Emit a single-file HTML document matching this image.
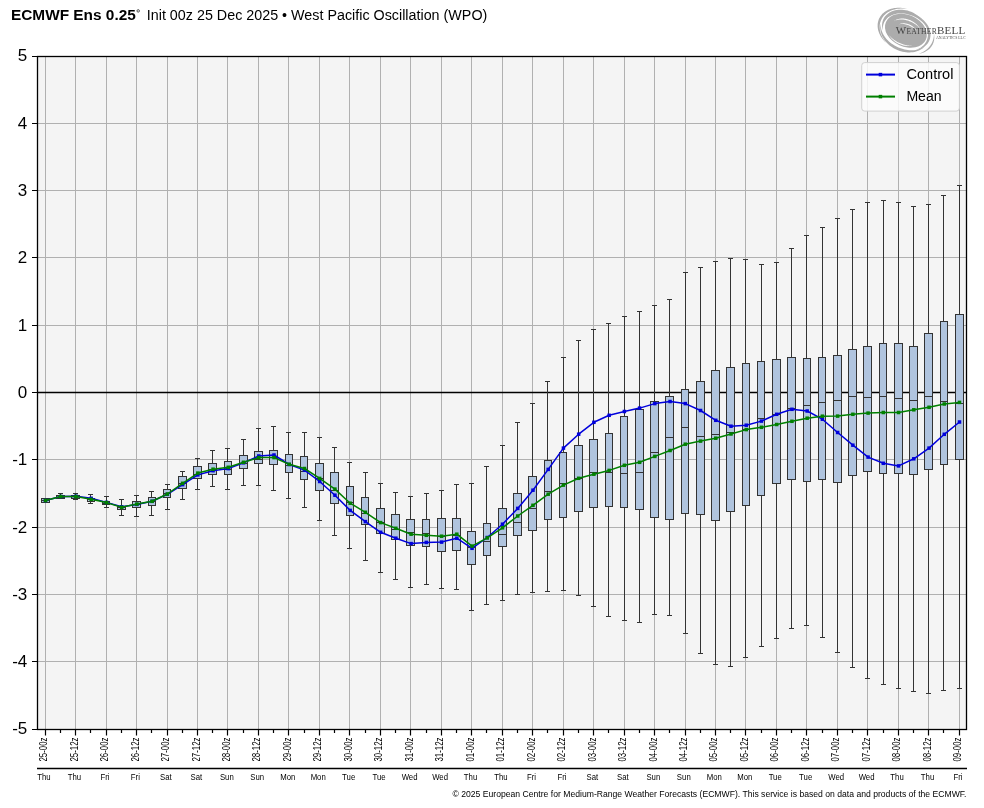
<!DOCTYPE html>
<html><head><meta charset="utf-8"><style>
html,body{margin:0;padding:0;background:#fff;}
body{width:984px;height:808px;overflow:hidden;}
svg{display:block;will-change:transform;font-family:"Liberation Sans",sans-serif;}
</style></head><body>
<svg width="984" height="808" viewBox="0 0 984 808">
<rect x="37.5" y="56.5" width="929" height="673" fill="#f4f4f4"/>
<path d="M45.5,56.5V729.5M75.5,56.5V729.5M106.5,56.5V729.5M136.5,56.5V729.5M167.5,56.5V729.5M197.5,56.5V729.5M227.5,56.5V729.5M258.5,56.5V729.5M288.5,56.5V729.5M319.5,56.5V729.5M349.5,56.5V729.5M380.5,56.5V729.5M410.5,56.5V729.5M441.5,56.5V729.5M471.5,56.5V729.5M502.5,56.5V729.5M532.5,56.5V729.5M563.5,56.5V729.5M593.5,56.5V729.5M624.5,56.5V729.5M654.5,56.5V729.5M685.5,56.5V729.5M715.5,56.5V729.5M745.5,56.5V729.5M776.5,56.5V729.5M806.5,56.5V729.5M837.5,56.5V729.5M867.5,56.5V729.5M898.5,56.5V729.5M928.5,56.5V729.5M959.5,56.5V729.5M37.5,661.5H966.5M37.5,594.5H966.5M37.5,527.5H966.5M37.5,459.5H966.5M37.5,325.5H966.5M37.5,257.5H966.5M37.5,190.5H966.5M37.5,123.5H966.5" stroke="#b0b0b0" stroke-width="1" fill="none"/>
<path d="M37.5,392.5H966.5" stroke="#000" stroke-width="1.5" fill="none"/>
<path d="M45.5,499.5V498.5M45.5,502.5V501.5M43,499.5H48M43,501.5H48M60.5,493.5V495.5M60.5,498.5V498.5M58,493.5H63M58,498.5H63M75.5,493.5V495.5M75.5,498.5V499.5M73,493.5H78M73,499.5H78M90.5,494.5V498.5M90.5,501.5V503.5M88,494.5H93M88,503.5H93M106.5,496.5V501.5M106.5,504.5V507.5M104,496.5H109M104,507.5H109M121.5,499.5V506.5M121.5,509.5V515.5M119,499.5H124M119,515.5H124M136.5,495.5V501.5M136.5,507.5V516.5M134,495.5H139M134,516.5H139M151.5,491.5V497.5M151.5,505.5V515.5M149,491.5H154M149,515.5H154M167.5,484.5V489.5M167.5,497.5V509.5M165,484.5H170M165,509.5H170M182.5,471.5V476.5M182.5,488.5V499.5M180,471.5H185M180,499.5H185M197.5,458.5V466.5M197.5,478.5V489.5M195,458.5H200M195,489.5H200M212.5,450.5V463.5M212.5,474.5V486.5M210,450.5H215M210,486.5H215M227.5,448.5V461.5M227.5,474.5V489.5M225,448.5H230M225,489.5H230M243.5,439.5V455.5M243.5,468.5V485.5M241,439.5H246M241,485.5H246M258.5,428.5V451.5M258.5,463.5V485.5M256,428.5H261M256,485.5H261M273.5,426.5V450.5M273.5,464.5V490.5M271,426.5H276M271,490.5H276M288.5,432.5V454.5M288.5,472.5V498.5M286,432.5H291M286,498.5H291M304.5,432.5V456.5M304.5,479.5V507.5M302,432.5H307M302,507.5H307M319.5,437.5V463.5M319.5,490.5V520.5M317,437.5H322M317,520.5H322M334.5,447.5V472.5M334.5,503.5V535.5M332,447.5H337M332,535.5H337M349.5,462.5V486.5M349.5,515.5V548.5M347,462.5H352M347,548.5H352M365.5,472.5V497.5M365.5,524.5V560.5M363,472.5H368M363,560.5H368M380.5,483.5V508.5M380.5,533.5V572.5M378,483.5H383M378,572.5H383M395.5,492.5V514.5M395.5,539.5V579.5M393,492.5H398M393,579.5H398M410.5,496.5V519.5M410.5,545.5V587.5M408,496.5H413M408,587.5H413M426.5,493.5V519.5M426.5,546.5V584.5M424,493.5H429M424,584.5H429M441.5,490.5V518.5M441.5,551.5V588.5M439,490.5H444M439,588.5H444M456.5,484.5V518.5M456.5,550.5V589.5M454,484.5H459M454,589.5H459M471.5,483.5V531.5M471.5,564.5V610.5M469,483.5H474M469,610.5H474M486.5,466.5V523.5M486.5,555.5V604.5M484,466.5H489M484,604.5H489M502.5,445.5V508.5M502.5,546.5V600.5M500,445.5H505M500,600.5H505M517.5,422.5V493.5M517.5,535.5V594.5M515,422.5H520M515,594.5H520M532.5,403.5V476.5M532.5,530.5V592.5M530,403.5H535M530,592.5H535M547.5,381.5V460.5M547.5,519.5V591.5M545,381.5H550M545,591.5H550M563.5,357.5V452.5M563.5,517.5V590.5M561,357.5H566M561,590.5H566M578.5,340.5V445.5M578.5,511.5V595.5M576,340.5H581M576,595.5H581M593.5,329.5V439.5M593.5,507.5V606.5M591,329.5H596M591,606.5H596M608.5,323.5V433.5M608.5,506.5V616.5M606,323.5H611M606,616.5H611M624.5,316.5V416.5M624.5,507.5V620.5M622,316.5H627M622,620.5H627M639.5,311.5V409.5M639.5,509.5V622.5M637,311.5H642M637,622.5H642M654.5,305.5V401.5M654.5,517.5V614.5M652,305.5H657M652,614.5H657M669.5,299.5V396.5M669.5,519.5V615.5M667,299.5H672M667,615.5H672M685.5,272.5V389.5M685.5,513.5V633.5M683,272.5H688M683,633.5H688M700.5,267.5V381.5M700.5,514.5V653.5M698,267.5H703M698,653.5H703M715.5,261.5V370.5M715.5,520.5V664.5M713,261.5H718M713,664.5H718M730.5,258.5V367.5M730.5,511.5V666.5M728,258.5H733M728,666.5H733M745.5,259.5V363.5M745.5,505.5V657.5M743,259.5H748M743,657.5H748M761.5,264.5V361.5M761.5,495.5V646.5M759,264.5H764M759,646.5H764M776.5,262.5V359.5M776.5,483.5V638.5M774,262.5H779M774,638.5H779M791.5,248.5V357.5M791.5,479.5V628.5M789,248.5H794M789,628.5H794M806.5,235.5V358.5M806.5,481.5V625.5M804,235.5H809M804,625.5H809M822.5,227.5V357.5M822.5,479.5V637.5M820,227.5H825M820,637.5H825M837.5,218.5V355.5M837.5,482.5V652.5M835,218.5H840M835,652.5H840M852.5,209.5V349.5M852.5,475.5V667.5M850,209.5H855M850,667.5H855M867.5,202.5V346.5M867.5,471.5V678.5M865,202.5H870M865,678.5H870M883.5,200.5V343.5M883.5,473.5V684.5M881,200.5H886M881,684.5H886M898.5,202.5V343.5M898.5,473.5V688.5M896,202.5H901M896,688.5H901M913.5,206.5V346.5M913.5,474.5V691.5M911,206.5H916M911,691.5H916M928.5,204.5V333.5M928.5,469.5V693.5M926,204.5H931M926,693.5H931M943.5,195.5V321.5M943.5,464.5V690.5M941,195.5H946M941,690.5H946M959.5,185.5V314.5M959.5,459.5V688.5M957,185.5H962M957,688.5H962" stroke="#333" stroke-width="1" fill="none"/>
<g fill="#b0c4de" stroke="#333" stroke-width="1"><rect x="41.5" y="498.5" width="8" height="4"/><rect x="56.5" y="495.5" width="8" height="3"/><rect x="71.5" y="495.5" width="8" height="3"/><rect x="87.5" y="498.5" width="7" height="3"/><rect x="102.5" y="501.5" width="7" height="3"/><rect x="117.5" y="506.5" width="8" height="3"/><rect x="132.5" y="501.5" width="8" height="6"/><rect x="148.5" y="497.5" width="7" height="8"/><rect x="163.5" y="489.5" width="7" height="8"/><rect x="178.5" y="476.5" width="8" height="12"/><rect x="193.5" y="466.5" width="8" height="12"/><rect x="208.5" y="463.5" width="8" height="11"/><rect x="224.5" y="461.5" width="7" height="13"/><rect x="239.5" y="455.5" width="8" height="13"/><rect x="254.5" y="451.5" width="8" height="12"/><rect x="269.5" y="450.5" width="8" height="14"/><rect x="285.5" y="454.5" width="7" height="18"/><rect x="300.5" y="456.5" width="7" height="23"/><rect x="315.5" y="463.5" width="8" height="27"/><rect x="330.5" y="472.5" width="8" height="31"/><rect x="346.5" y="486.5" width="7" height="29"/><rect x="361.5" y="497.5" width="7" height="27"/><rect x="376.5" y="508.5" width="8" height="25"/><rect x="391.5" y="514.5" width="8" height="25"/><rect x="406.5" y="519.5" width="8" height="26"/><rect x="422.5" y="519.5" width="7" height="27"/><rect x="437.5" y="518.5" width="8" height="33"/><rect x="452.5" y="518.5" width="8" height="32"/><rect x="467.5" y="531.5" width="8" height="33"/><rect x="483.5" y="523.5" width="7" height="32"/><rect x="498.5" y="508.5" width="8" height="38"/><rect x="513.5" y="493.5" width="8" height="42"/><rect x="528.5" y="476.5" width="8" height="54"/><rect x="544.5" y="460.5" width="7" height="59"/><rect x="559.5" y="452.5" width="7" height="65"/><rect x="574.5" y="445.5" width="8" height="66"/><rect x="589.5" y="439.5" width="8" height="68"/><rect x="605.5" y="433.5" width="7" height="73"/><rect x="620.5" y="416.5" width="7" height="91"/><rect x="635.5" y="409.5" width="8" height="100"/><rect x="650.5" y="401.5" width="8" height="116"/><rect x="665.5" y="396.5" width="8" height="123"/><rect x="681.5" y="389.5" width="7" height="124"/><rect x="696.5" y="381.5" width="8" height="133"/><rect x="711.5" y="370.5" width="8" height="150"/><rect x="726.5" y="367.5" width="8" height="144"/><rect x="742.5" y="363.5" width="7" height="142"/><rect x="757.5" y="361.5" width="7" height="134"/><rect x="772.5" y="359.5" width="8" height="124"/><rect x="787.5" y="357.5" width="8" height="122"/><rect x="803.5" y="358.5" width="7" height="123"/><rect x="818.5" y="357.5" width="7" height="122"/><rect x="833.5" y="355.5" width="8" height="127"/><rect x="848.5" y="349.5" width="8" height="126"/><rect x="863.5" y="346.5" width="8" height="125"/><rect x="879.5" y="343.5" width="7" height="130"/><rect x="894.5" y="343.5" width="8" height="130"/><rect x="909.5" y="346.5" width="8" height="128"/><rect x="924.5" y="333.5" width="8" height="136"/><rect x="940.5" y="321.5" width="7" height="143"/><rect x="955.5" y="314.5" width="8" height="145"/></g>
<path d="M41.5,500.5H49.5M56.5,497.5H64.5M71.5,496.5H79.5M87.5,499.5H94.5M102.5,503.5H109.5M117.5,507.5H125.5M132.5,504.5H140.5M148.5,501.5H155.5M163.5,493.5H170.5M178.5,483.5H186.5M193.5,474.5H201.5M208.5,469.5H216.5M224.5,469.5H231.5M239.5,463.5H247.5M254.5,459.5H262.5M269.5,457.5H277.5M285.5,465.5H292.5M300.5,471.5H307.5M315.5,478.5H323.5M330.5,490.5H338.5M346.5,502.5H353.5M361.5,513.5H368.5M376.5,522.5H384.5M391.5,529.5H399.5M406.5,532.5H414.5M422.5,533.5H429.5M437.5,536.5H445.5M452.5,535.5H460.5M467.5,547.5H475.5M483.5,541.5H490.5M498.5,534.5H506.5M513.5,522.5H521.5M528.5,508.5H536.5M544.5,491.5H551.5M559.5,483.5H566.5M574.5,478.5H582.5M589.5,472.5H597.5M605.5,472.5H612.5M620.5,473.5H627.5M635.5,472.5H643.5M650.5,452.5H658.5M665.5,437.5H673.5M681.5,427.5H688.5M696.5,436.5H704.5M711.5,434.5H719.5M726.5,432.5H734.5M742.5,429.5H749.5M757.5,418.5H764.5M772.5,414.5H780.5M787.5,408.5H795.5M803.5,405.5H810.5M818.5,402.5H825.5M833.5,400.5H841.5M848.5,396.5H856.5M863.5,397.5H871.5M879.5,396.5H886.5M894.5,398.5H902.5M909.5,400.5H917.5M924.5,396.5H932.5M940.5,401.5H947.5M955.5,403.5H963.5" stroke="#333" stroke-width="1" fill="none"/>
<path d="M45.5,500.5 L60.73,496.5 L75.97,496.2 L91.2,498.3 L106.43,502.4 L121.67,506.8 L136.9,504.4 L152.13,501.3 L167.37,494.3 L182.6,484.6 L197.83,474.9 L213.07,470.7 L228.3,468.6 L243.53,462.8 L258.77,456 L274,455 L289.23,464.5 L304.47,470.1 L319.7,481.5 L334.93,495.2 L350.17,510.4 L365.4,521.6 L380.63,532.3 L395.87,538.2 L411.1,543.6 L426.33,542.4 L441.57,542.1 L456.8,538.2 L472.03,548.3 L487.27,537.5 L502.5,524.2 L517.73,508.4 L532.97,490.2 L548.2,469.4 L563.43,448.1 L578.67,434.2 L593.9,422.3 L609.13,415.3 L624.37,411.5 L639.6,408.1 L654.83,403.6 L670.07,401.5 L685.3,403.6 L700.53,410.5 L715.77,420.3 L731,426.2 L746.23,425.2 L761.47,421.1 L776.7,414.3 L791.93,409.3 L807.17,411 L822.4,419.2 L837.63,432.5 L852.87,445.2 L868.1,457.1 L883.33,463.3 L898.57,465.9 L913.8,458.8 L929.03,448.1 L944.27,434.3 L959.5,422" stroke="#0000dc" stroke-width="1.5" stroke-linejoin="round" fill="none"/>
<g fill="#0000dc"><rect x="43.75" y="498.75" width="3.5" height="3.5"/><rect x="58.98" y="494.75" width="3.5" height="3.5"/><rect x="74.22" y="494.45" width="3.5" height="3.5"/><rect x="89.45" y="496.55" width="3.5" height="3.5"/><rect x="104.68" y="500.65" width="3.5" height="3.5"/><rect x="119.92" y="505.05" width="3.5" height="3.5"/><rect x="135.15" y="502.65" width="3.5" height="3.5"/><rect x="150.38" y="499.55" width="3.5" height="3.5"/><rect x="165.62" y="492.55" width="3.5" height="3.5"/><rect x="180.85" y="482.85" width="3.5" height="3.5"/><rect x="196.08" y="473.15" width="3.5" height="3.5"/><rect x="211.32" y="468.95" width="3.5" height="3.5"/><rect x="226.55" y="466.85" width="3.5" height="3.5"/><rect x="241.78" y="461.05" width="3.5" height="3.5"/><rect x="257.02" y="454.25" width="3.5" height="3.5"/><rect x="272.25" y="453.25" width="3.5" height="3.5"/><rect x="287.48" y="462.75" width="3.5" height="3.5"/><rect x="302.72" y="468.35" width="3.5" height="3.5"/><rect x="317.95" y="479.75" width="3.5" height="3.5"/><rect x="333.18" y="493.45" width="3.5" height="3.5"/><rect x="348.42" y="508.65" width="3.5" height="3.5"/><rect x="363.65" y="519.85" width="3.5" height="3.5"/><rect x="378.88" y="530.55" width="3.5" height="3.5"/><rect x="394.12" y="536.45" width="3.5" height="3.5"/><rect x="409.35" y="541.85" width="3.5" height="3.5"/><rect x="424.58" y="540.65" width="3.5" height="3.5"/><rect x="439.82" y="540.35" width="3.5" height="3.5"/><rect x="455.05" y="536.45" width="3.5" height="3.5"/><rect x="470.28" y="546.55" width="3.5" height="3.5"/><rect x="485.52" y="535.75" width="3.5" height="3.5"/><rect x="500.75" y="522.45" width="3.5" height="3.5"/><rect x="515.98" y="506.65" width="3.5" height="3.5"/><rect x="531.22" y="488.45" width="3.5" height="3.5"/><rect x="546.45" y="467.65" width="3.5" height="3.5"/><rect x="561.68" y="446.35" width="3.5" height="3.5"/><rect x="576.92" y="432.45" width="3.5" height="3.5"/><rect x="592.15" y="420.55" width="3.5" height="3.5"/><rect x="607.38" y="413.55" width="3.5" height="3.5"/><rect x="622.62" y="409.75" width="3.5" height="3.5"/><rect x="637.85" y="406.35" width="3.5" height="3.5"/><rect x="653.08" y="401.85" width="3.5" height="3.5"/><rect x="668.32" y="399.75" width="3.5" height="3.5"/><rect x="683.55" y="401.85" width="3.5" height="3.5"/><rect x="698.78" y="408.75" width="3.5" height="3.5"/><rect x="714.02" y="418.55" width="3.5" height="3.5"/><rect x="729.25" y="424.45" width="3.5" height="3.5"/><rect x="744.48" y="423.45" width="3.5" height="3.5"/><rect x="759.72" y="419.35" width="3.5" height="3.5"/><rect x="774.95" y="412.55" width="3.5" height="3.5"/><rect x="790.18" y="407.55" width="3.5" height="3.5"/><rect x="805.42" y="409.25" width="3.5" height="3.5"/><rect x="820.65" y="417.45" width="3.5" height="3.5"/><rect x="835.88" y="430.75" width="3.5" height="3.5"/><rect x="851.12" y="443.45" width="3.5" height="3.5"/><rect x="866.35" y="455.35" width="3.5" height="3.5"/><rect x="881.58" y="461.55" width="3.5" height="3.5"/><rect x="896.82" y="464.15" width="3.5" height="3.5"/><rect x="912.05" y="457.05" width="3.5" height="3.5"/><rect x="927.28" y="446.35" width="3.5" height="3.5"/><rect x="942.52" y="432.55" width="3.5" height="3.5"/><rect x="957.75" y="420.25" width="3.5" height="3.5"/></g>
<path d="M45.5,500.5 L60.73,496.5 L75.97,496.5 L91.2,499.3 L106.43,502.6 L121.67,507.3 L136.9,504.1 L152.13,501.3 L167.37,494 L182.6,483.3 L197.83,473.1 L213.07,469.2 L228.3,467.3 L243.53,462.3 L258.77,457.6 L274,457.6 L289.23,464.3 L304.47,468.5 L319.7,478.4 L334.93,489.1 L350.17,503.2 L365.4,512.3 L380.63,522.6 L395.87,528.3 L411.1,534.2 L426.33,535.3 L441.57,536.2 L456.8,534.2 L472.03,546.1 L487.27,537.9 L502.5,527.8 L517.73,516 L532.97,505.3 L548.2,494.2 L563.43,485.1 L578.67,478.3 L593.9,474.2 L609.13,470.4 L624.37,465.3 L639.6,462.3 L654.83,456.4 L670.07,450.5 L685.3,444.2 L700.53,441.1 L715.77,438.2 L731,434 L746.23,429.6 L761.47,427.3 L776.7,424.5 L791.93,421.3 L807.17,418.2 L822.4,416.2 L837.63,416.1 L852.87,414.3 L868.1,413.1 L883.33,412.5 L898.57,412.5 L913.8,409.8 L929.03,407.3 L944.27,404 L959.5,402.4" stroke="#008000" stroke-width="1.5" stroke-linejoin="round" fill="none"/>
<g fill="#008000"><rect x="43.75" y="498.75" width="3.5" height="3.5"/><rect x="58.98" y="494.75" width="3.5" height="3.5"/><rect x="74.22" y="494.75" width="3.5" height="3.5"/><rect x="89.45" y="497.55" width="3.5" height="3.5"/><rect x="104.68" y="500.85" width="3.5" height="3.5"/><rect x="119.92" y="505.55" width="3.5" height="3.5"/><rect x="135.15" y="502.35" width="3.5" height="3.5"/><rect x="150.38" y="499.55" width="3.5" height="3.5"/><rect x="165.62" y="492.25" width="3.5" height="3.5"/><rect x="180.85" y="481.55" width="3.5" height="3.5"/><rect x="196.08" y="471.35" width="3.5" height="3.5"/><rect x="211.32" y="467.45" width="3.5" height="3.5"/><rect x="226.55" y="465.55" width="3.5" height="3.5"/><rect x="241.78" y="460.55" width="3.5" height="3.5"/><rect x="257.02" y="455.85" width="3.5" height="3.5"/><rect x="272.25" y="455.85" width="3.5" height="3.5"/><rect x="287.48" y="462.55" width="3.5" height="3.5"/><rect x="302.72" y="466.75" width="3.5" height="3.5"/><rect x="317.95" y="476.65" width="3.5" height="3.5"/><rect x="333.18" y="487.35" width="3.5" height="3.5"/><rect x="348.42" y="501.45" width="3.5" height="3.5"/><rect x="363.65" y="510.55" width="3.5" height="3.5"/><rect x="378.88" y="520.85" width="3.5" height="3.5"/><rect x="394.12" y="526.55" width="3.5" height="3.5"/><rect x="409.35" y="532.45" width="3.5" height="3.5"/><rect x="424.58" y="533.55" width="3.5" height="3.5"/><rect x="439.82" y="534.45" width="3.5" height="3.5"/><rect x="455.05" y="532.45" width="3.5" height="3.5"/><rect x="470.28" y="544.35" width="3.5" height="3.5"/><rect x="485.52" y="536.15" width="3.5" height="3.5"/><rect x="500.75" y="526.05" width="3.5" height="3.5"/><rect x="515.98" y="514.25" width="3.5" height="3.5"/><rect x="531.22" y="503.55" width="3.5" height="3.5"/><rect x="546.45" y="492.45" width="3.5" height="3.5"/><rect x="561.68" y="483.35" width="3.5" height="3.5"/><rect x="576.92" y="476.55" width="3.5" height="3.5"/><rect x="592.15" y="472.45" width="3.5" height="3.5"/><rect x="607.38" y="468.65" width="3.5" height="3.5"/><rect x="622.62" y="463.55" width="3.5" height="3.5"/><rect x="637.85" y="460.55" width="3.5" height="3.5"/><rect x="653.08" y="454.65" width="3.5" height="3.5"/><rect x="668.32" y="448.75" width="3.5" height="3.5"/><rect x="683.55" y="442.45" width="3.5" height="3.5"/><rect x="698.78" y="439.35" width="3.5" height="3.5"/><rect x="714.02" y="436.45" width="3.5" height="3.5"/><rect x="729.25" y="432.25" width="3.5" height="3.5"/><rect x="744.48" y="427.85" width="3.5" height="3.5"/><rect x="759.72" y="425.55" width="3.5" height="3.5"/><rect x="774.95" y="422.75" width="3.5" height="3.5"/><rect x="790.18" y="419.55" width="3.5" height="3.5"/><rect x="805.42" y="416.45" width="3.5" height="3.5"/><rect x="820.65" y="414.45" width="3.5" height="3.5"/><rect x="835.88" y="414.35" width="3.5" height="3.5"/><rect x="851.12" y="412.55" width="3.5" height="3.5"/><rect x="866.35" y="411.35" width="3.5" height="3.5"/><rect x="881.58" y="410.75" width="3.5" height="3.5"/><rect x="896.82" y="410.75" width="3.5" height="3.5"/><rect x="912.05" y="408.05" width="3.5" height="3.5"/><rect x="927.28" y="405.55" width="3.5" height="3.5"/><rect x="942.52" y="402.25" width="3.5" height="3.5"/><rect x="957.75" y="400.65" width="3.5" height="3.5"/></g>
<rect x="37.5" y="56.5" width="929" height="673" fill="none" stroke="#000" stroke-width="1.3"/>
<path d="M32,729.5H37.5M32,661.5H37.5M32,594.5H37.5M32,527.5H37.5M32,459.5H37.5M32,392.5H37.5M32,325.5H37.5M32,257.5H37.5M32,190.5H37.5M32,123.5H37.5M32,56.5H37.5M45.5,729.5V735.5M60.5,729.5V733M75.5,729.5V735.5M90.5,729.5V733M106.5,729.5V735.5M121.5,729.5V733M136.5,729.5V735.5M151.5,729.5V733M167.5,729.5V735.5M182.5,729.5V733M197.5,729.5V735.5M212.5,729.5V733M227.5,729.5V735.5M243.5,729.5V733M258.5,729.5V735.5M273.5,729.5V733M288.5,729.5V735.5M304.5,729.5V733M319.5,729.5V735.5M334.5,729.5V733M349.5,729.5V735.5M365.5,729.5V733M380.5,729.5V735.5M395.5,729.5V733M410.5,729.5V735.5M426.5,729.5V733M441.5,729.5V735.5M456.5,729.5V733M471.5,729.5V735.5M486.5,729.5V733M502.5,729.5V735.5M517.5,729.5V733M532.5,729.5V735.5M547.5,729.5V733M563.5,729.5V735.5M578.5,729.5V733M593.5,729.5V735.5M608.5,729.5V733M624.5,729.5V735.5M639.5,729.5V733M654.5,729.5V735.5M669.5,729.5V733M685.5,729.5V735.5M700.5,729.5V733M715.5,729.5V735.5M730.5,729.5V733M745.5,729.5V735.5M761.5,729.5V733M776.5,729.5V735.5M791.5,729.5V733M806.5,729.5V735.5M822.5,729.5V733M837.5,729.5V735.5M852.5,729.5V733M867.5,729.5V735.5M883.5,729.5V733M898.5,729.5V735.5M913.5,729.5V733M928.5,729.5V735.5M943.5,729.5V733M959.5,729.5V735.5" stroke="#000" stroke-width="1.2" fill="none"/>
<text x="27.3" y="734.4" text-anchor="end" font-size="17">-5</text>
<text x="27.3" y="667.1" text-anchor="end" font-size="17">-4</text>
<text x="27.3" y="599.8" text-anchor="end" font-size="17">-3</text>
<text x="27.3" y="532.5" text-anchor="end" font-size="17">-2</text>
<text x="27.3" y="465.2" text-anchor="end" font-size="17">-1</text>
<text x="27.3" y="397.9" text-anchor="end" font-size="17">0</text>
<text x="27.3" y="330.6" text-anchor="end" font-size="17">1</text>
<text x="27.3" y="263.3" text-anchor="end" font-size="17">2</text>
<text x="27.3" y="196" text-anchor="end" font-size="17">3</text>
<text x="27.3" y="128.7" text-anchor="end" font-size="17">4</text>
<text x="27.3" y="61.4" text-anchor="end" font-size="17">5</text>
<text transform="translate(47.2,761.5) rotate(-90)" font-size="10.3" textLength="24" lengthAdjust="spacingAndGlyphs">25-00z</text>
<text x="53.66" y="780" text-anchor="middle" font-size="9.5" transform="scale(0.82,1)">Thu</text>
<text transform="translate(77.67,761.5) rotate(-90)" font-size="10.3" textLength="24" lengthAdjust="spacingAndGlyphs">25-12z</text>
<text x="90.81" y="780" text-anchor="middle" font-size="9.5" transform="scale(0.82,1)">Thu</text>
<text transform="translate(108.13,761.5) rotate(-90)" font-size="10.3" textLength="24" lengthAdjust="spacingAndGlyphs">26-00z</text>
<text x="127.97" y="780" text-anchor="middle" font-size="9.5" transform="scale(0.82,1)">Fri</text>
<text transform="translate(138.6,761.5) rotate(-90)" font-size="10.3" textLength="24" lengthAdjust="spacingAndGlyphs">26-12z</text>
<text x="165.12" y="780" text-anchor="middle" font-size="9.5" transform="scale(0.82,1)">Fri</text>
<text transform="translate(169.07,761.5) rotate(-90)" font-size="10.3" textLength="24" lengthAdjust="spacingAndGlyphs">27-00z</text>
<text x="202.28" y="780" text-anchor="middle" font-size="9.5" transform="scale(0.82,1)">Sat</text>
<text transform="translate(199.53,761.5) rotate(-90)" font-size="10.3" textLength="24" lengthAdjust="spacingAndGlyphs">27-12z</text>
<text x="239.43" y="780" text-anchor="middle" font-size="9.5" transform="scale(0.82,1)">Sat</text>
<text transform="translate(230,761.5) rotate(-90)" font-size="10.3" textLength="24" lengthAdjust="spacingAndGlyphs">28-00z</text>
<text x="276.59" y="780" text-anchor="middle" font-size="9.5" transform="scale(0.82,1)">Sun</text>
<text transform="translate(260.47,761.5) rotate(-90)" font-size="10.3" textLength="24" lengthAdjust="spacingAndGlyphs">28-12z</text>
<text x="313.74" y="780" text-anchor="middle" font-size="9.5" transform="scale(0.82,1)">Sun</text>
<text transform="translate(290.93,761.5) rotate(-90)" font-size="10.3" textLength="24" lengthAdjust="spacingAndGlyphs">29-00z</text>
<text x="350.89" y="780" text-anchor="middle" font-size="9.5" transform="scale(0.82,1)">Mon</text>
<text transform="translate(321.4,761.5) rotate(-90)" font-size="10.3" textLength="24" lengthAdjust="spacingAndGlyphs">29-12z</text>
<text x="388.05" y="780" text-anchor="middle" font-size="9.5" transform="scale(0.82,1)">Mon</text>
<text transform="translate(351.87,761.5) rotate(-90)" font-size="10.3" textLength="24" lengthAdjust="spacingAndGlyphs">30-00z</text>
<text x="425.2" y="780" text-anchor="middle" font-size="9.5" transform="scale(0.82,1)">Tue</text>
<text transform="translate(382.33,761.5) rotate(-90)" font-size="10.3" textLength="24" lengthAdjust="spacingAndGlyphs">30-12z</text>
<text x="462.36" y="780" text-anchor="middle" font-size="9.5" transform="scale(0.82,1)">Tue</text>
<text transform="translate(412.8,761.5) rotate(-90)" font-size="10.3" textLength="24" lengthAdjust="spacingAndGlyphs">31-00z</text>
<text x="499.51" y="780" text-anchor="middle" font-size="9.5" transform="scale(0.82,1)">Wed</text>
<text transform="translate(443.27,761.5) rotate(-90)" font-size="10.3" textLength="24" lengthAdjust="spacingAndGlyphs">31-12z</text>
<text x="536.67" y="780" text-anchor="middle" font-size="9.5" transform="scale(0.82,1)">Wed</text>
<text transform="translate(473.73,761.5) rotate(-90)" font-size="10.3" textLength="24" lengthAdjust="spacingAndGlyphs">01-00z</text>
<text x="573.82" y="780" text-anchor="middle" font-size="9.5" transform="scale(0.82,1)">Thu</text>
<text transform="translate(504.2,761.5) rotate(-90)" font-size="10.3" textLength="24" lengthAdjust="spacingAndGlyphs">01-12z</text>
<text x="610.98" y="780" text-anchor="middle" font-size="9.5" transform="scale(0.82,1)">Thu</text>
<text transform="translate(534.67,761.5) rotate(-90)" font-size="10.3" textLength="24" lengthAdjust="spacingAndGlyphs">02-00z</text>
<text x="648.13" y="780" text-anchor="middle" font-size="9.5" transform="scale(0.82,1)">Fri</text>
<text transform="translate(565.13,761.5) rotate(-90)" font-size="10.3" textLength="24" lengthAdjust="spacingAndGlyphs">02-12z</text>
<text x="685.28" y="780" text-anchor="middle" font-size="9.5" transform="scale(0.82,1)">Fri</text>
<text transform="translate(595.6,761.5) rotate(-90)" font-size="10.3" textLength="24" lengthAdjust="spacingAndGlyphs">03-00z</text>
<text x="722.44" y="780" text-anchor="middle" font-size="9.5" transform="scale(0.82,1)">Sat</text>
<text transform="translate(626.07,761.5) rotate(-90)" font-size="10.3" textLength="24" lengthAdjust="spacingAndGlyphs">03-12z</text>
<text x="759.59" y="780" text-anchor="middle" font-size="9.5" transform="scale(0.82,1)">Sat</text>
<text transform="translate(656.53,761.5) rotate(-90)" font-size="10.3" textLength="24" lengthAdjust="spacingAndGlyphs">04-00z</text>
<text x="796.75" y="780" text-anchor="middle" font-size="9.5" transform="scale(0.82,1)">Sun</text>
<text transform="translate(687,761.5) rotate(-90)" font-size="10.3" textLength="24" lengthAdjust="spacingAndGlyphs">04-12z</text>
<text x="833.9" y="780" text-anchor="middle" font-size="9.5" transform="scale(0.82,1)">Sun</text>
<text transform="translate(717.47,761.5) rotate(-90)" font-size="10.3" textLength="24" lengthAdjust="spacingAndGlyphs">05-00z</text>
<text x="871.06" y="780" text-anchor="middle" font-size="9.5" transform="scale(0.82,1)">Mon</text>
<text transform="translate(747.93,761.5) rotate(-90)" font-size="10.3" textLength="24" lengthAdjust="spacingAndGlyphs">05-12z</text>
<text x="908.21" y="780" text-anchor="middle" font-size="9.5" transform="scale(0.82,1)">Mon</text>
<text transform="translate(778.4,761.5) rotate(-90)" font-size="10.3" textLength="24" lengthAdjust="spacingAndGlyphs">06-00z</text>
<text x="945.37" y="780" text-anchor="middle" font-size="9.5" transform="scale(0.82,1)">Tue</text>
<text transform="translate(808.87,761.5) rotate(-90)" font-size="10.3" textLength="24" lengthAdjust="spacingAndGlyphs">06-12z</text>
<text x="982.52" y="780" text-anchor="middle" font-size="9.5" transform="scale(0.82,1)">Tue</text>
<text transform="translate(839.33,761.5) rotate(-90)" font-size="10.3" textLength="24" lengthAdjust="spacingAndGlyphs">07-00z</text>
<text x="1019.67" y="780" text-anchor="middle" font-size="9.5" transform="scale(0.82,1)">Wed</text>
<text transform="translate(869.8,761.5) rotate(-90)" font-size="10.3" textLength="24" lengthAdjust="spacingAndGlyphs">07-12z</text>
<text x="1056.83" y="780" text-anchor="middle" font-size="9.5" transform="scale(0.82,1)">Wed</text>
<text transform="translate(900.27,761.5) rotate(-90)" font-size="10.3" textLength="24" lengthAdjust="spacingAndGlyphs">08-00z</text>
<text x="1093.98" y="780" text-anchor="middle" font-size="9.5" transform="scale(0.82,1)">Thu</text>
<text transform="translate(930.73,761.5) rotate(-90)" font-size="10.3" textLength="24" lengthAdjust="spacingAndGlyphs">08-12z</text>
<text x="1131.14" y="780" text-anchor="middle" font-size="9.5" transform="scale(0.82,1)">Thu</text>
<text transform="translate(961.2,761.5) rotate(-90)" font-size="10.3" textLength="24" lengthAdjust="spacingAndGlyphs">09-00z</text>
<text x="1168.29" y="780" text-anchor="middle" font-size="9.5" transform="scale(0.82,1)">Fri</text>
<path d="M37,768.5H967" stroke="#000" stroke-width="1.4"/>
<text x="966.5" y="796.8" text-anchor="end" font-size="9.3" textLength="514" lengthAdjust="spacingAndGlyphs">© 2025 European Centre for Medium-Range Weather Forecasts (ECMWF). This service is based on data and products of the ECMWF.</text>
<rect x="861.7" y="62.6" width="97.7" height="48.5" rx="3" fill="#fcfcfc" fill-opacity="0.85" stroke="#d0d0d0" stroke-width="1"/>
<path d="M866,74.6H895" stroke="#0000dc" stroke-width="2"/><rect x="878.7" y="72.85" width="3.5" height="3.5" fill="#0000dc"/>
<path d="M866,96.6H895" stroke="#008000" stroke-width="2"/><rect x="878.7" y="94.85" width="3.5" height="3.5" fill="#008000"/>
<text x="906.4" y="79" font-size="14" textLength="47" lengthAdjust="spacingAndGlyphs">Control</text>
<text x="906.4" y="100.9" font-size="14" textLength="35.2" lengthAdjust="spacingAndGlyphs">Mean</text>
<text x="11" y="19.8" font-size="14" font-weight="bold" textLength="124.8" lengthAdjust="spacingAndGlyphs">ECMWF Ens 0.25</text>
<circle cx="138.2" cy="10.9" r="1.25" fill="none" stroke="#000" stroke-width="0.65"/>
<text x="146.8" y="19.8" font-size="14" textLength="340.5" lengthAdjust="spacingAndGlyphs">Init 00z 25 Dec 2025 • West Pacific Oscillation (WPO)</text>
<ellipse cx="905.9" cy="30.8" rx="21.8" ry="15.9" transform="rotate(24 905.9 30.8)" fill="#acacac"/><path d="M882.97,30.51 L882.55,29.10 L882.26,27.68 L882.10,26.26 L882.07,24.83 L882.18,23.42 L882.42,22.03 L882.80,20.67 L883.32,19.35 L883.97,18.08 L884.76,16.87 L885.67,15.73 L886.71,14.66 L887.87,13.68 L889.13,12.79 L890.50,12.00 L891.97,11.32 L893.52,10.75 L895.14,10.30 L896.83,9.97 L898.57,9.76 L900.35,9.68 L902.15,9.73 L903.97,9.90 L905.79,10.20 L907.60,10.62 L909.39,11.16 L911.14,11.81 L912.84,12.58 L914.49,13.44 L916.07,14.40 L917.58,15.45 L919.00,16.58 L920.32,17.78 L921.55,19.05 L922.67,20.36 L923.67,21.72 L924.57,23.11 L925.34,24.52 L925.99,25.95 L926.52,27.38 L926.52,27.38 L925.71,26.05 L924.80,24.77 L923.79,23.53 L922.69,22.36 L921.51,21.24 L920.26,20.19 L918.94,19.21 L917.56,18.29 L916.14,17.46 L914.67,16.70 L913.17,16.01 L911.64,15.41 L910.10,14.88 L908.54,14.44 L906.97,14.07 L905.41,13.79 L903.86,13.59 L902.31,13.48 L900.79,13.44 L899.29,13.49 L897.83,13.62 L896.40,13.83 L895.01,14.13 L893.67,14.51 L892.38,14.97 L891.15,15.51 L889.98,16.13 L888.88,16.83 L887.86,17.61 L886.92,18.47 L886.06,19.40 L885.29,20.40 L884.62,21.47 L884.05,22.61 L883.58,23.81 L883.22,25.06 L882.98,26.36 L882.85,27.71 L882.85,29.09 L882.97,30.51Z" fill="#acacac"/><path d="M886.83,43.41 L885.62,42.32 L884.47,41.18 L883.40,39.99 L882.40,38.75 L881.49,37.48 L880.66,36.16 L879.93,34.82 L879.29,33.45 L878.75,32.06 L878.31,30.65 L877.98,29.23 L877.75,27.82 L877.63,26.40 L877.63,25.00 L877.73,23.61 L877.95,22.25 L878.27,20.91 L878.70,19.61 L879.24,18.36 L879.88,17.15 L880.63,15.99 L881.47,14.90 L882.41,13.86 L883.43,12.90 L884.54,12.01 L885.73,11.20 L886.99,10.47 L888.32,9.82 L889.71,9.26 L891.16,8.79 L892.65,8.41 L894.18,8.11 L895.75,7.91 L897.34,7.80 L898.96,7.78 L900.59,7.85 L902.22,8.01 L903.86,8.25 L905.49,8.58 L907.10,8.99 L907.10,8.99 L905.47,8.77 L903.84,8.63 L902.24,8.57 L900.65,8.59 L899.09,8.69 L897.57,8.87 L896.08,9.12 L894.64,9.45 L893.24,9.85 L891.90,10.31 L890.61,10.85 L889.38,11.45 L888.21,12.12 L887.11,12.84 L886.07,13.62 L885.10,14.46 L884.21,15.35 L883.39,16.29 L882.65,17.28 L881.98,18.31 L881.40,19.39 L880.90,20.50 L880.48,21.65 L880.15,22.84 L879.90,24.05 L879.74,25.30 L879.67,26.56 L879.69,27.85 L879.80,29.16 L880.00,30.47 L880.28,31.80 L880.66,33.13 L881.13,34.46 L881.68,35.79 L882.33,37.11 L883.06,38.42 L883.88,39.71 L884.78,40.97 L885.77,42.21 L886.83,43.41Z" fill="#acacac"/><path d="M925.83,45.29 L924.93,46.32 L923.93,47.29 L922.84,48.19 L921.66,49.01 L920.38,49.76 L919.03,50.42 L917.59,51.00 L916.09,51.49 L914.53,51.88 L912.91,52.16 L911.24,52.35 L909.54,52.43 L907.81,52.41 L906.06,52.28 L904.30,52.04 L902.54,51.70 L900.79,51.25 L899.06,50.69 L897.35,50.04 L895.69,49.29 L894.07,48.44 L892.52,47.51 L891.02,46.49 L889.60,45.40 L888.26,44.24 L887.01,43.01 L885.85,41.73 L884.79,40.39 L883.83,39.02 L882.99,37.61 L882.25,36.18 L881.63,34.73 L881.13,33.27 L880.74,31.81 L880.48,30.36 L880.33,28.92 L880.29,27.51 L880.38,26.12 L880.58,24.77 L880.88,23.45 L880.88,23.45 L880.79,24.80 L880.81,26.17 L880.95,27.53 L881.19,28.90 L881.54,30.26 L882.00,31.61 L882.55,32.94 L883.21,34.25 L883.95,35.53 L884.79,36.78 L885.70,38.00 L886.70,39.18 L887.77,40.31 L888.91,41.40 L890.12,42.44 L891.38,43.42 L892.70,44.35 L894.07,45.22 L895.49,46.03 L896.94,46.78 L898.43,47.46 L899.95,48.07 L901.49,48.61 L903.05,49.08 L904.62,49.47 L906.20,49.79 L907.78,50.02 L909.36,50.17 L910.93,50.24 L912.49,50.23 L914.02,50.13 L915.53,49.94 L917.00,49.66 L918.43,49.30 L919.82,48.85 L921.15,48.31 L922.43,47.68 L923.63,46.97 L924.77,46.17 L925.83,45.29Z" fill="#acacac"/><path d="M916.76,15.44 L917.95,16.08 L919.11,16.78 L920.24,17.52 L921.33,18.32 L922.37,19.15 L923.37,20.04 L924.32,20.96 L925.21,21.92 L926.05,22.92 L926.82,23.95 L927.53,25.01 L928.17,26.10 L928.73,27.21 L929.22,28.33 L929.64,29.47 L929.97,30.62 L930.23,31.77 L930.40,32.92 L930.49,34.07 L930.50,35.20 L930.42,36.32 L930.26,37.43 L930.03,38.50 L929.71,39.55 L929.31,40.57 L928.83,41.55 L928.28,42.49 L927.66,43.39 L926.97,44.24 L926.22,45.04 L925.40,45.79 L924.52,46.48 L923.59,47.12 L922.61,47.70 L921.59,48.21 L920.52,48.67 L919.42,49.06 L918.28,49.40 L917.11,49.67 L915.91,49.88 L915.91,49.88 L917.02,49.48 L918.09,49.04 L919.11,48.54 L920.08,48.00 L921.00,47.42 L921.86,46.79 L922.67,46.12 L923.42,45.42 L924.12,44.69 L924.76,43.92 L925.34,43.12 L925.87,42.29 L926.33,41.44 L926.74,40.57 L927.08,39.67 L927.37,38.75 L927.59,37.81 L927.76,36.86 L927.87,35.89 L927.92,34.91 L927.90,33.91 L927.83,32.91 L927.70,31.90 L927.51,30.88 L927.27,29.85 L926.96,28.82 L926.60,27.80 L926.17,26.77 L925.69,25.74 L925.15,24.72 L924.56,23.71 L923.90,22.71 L923.20,21.72 L922.43,20.75 L921.61,19.80 L920.74,18.87 L919.82,17.96 L918.85,17.09 L917.83,16.25 L916.76,15.44Z" fill="#acacac"/><path d="M933.89,33.29 L934.03,34.01 L934.15,34.73 L934.23,35.45 L934.29,36.16 L934.32,36.88 L934.32,37.59 L934.29,38.30 L934.24,39.01 L934.15,39.71 L934.03,40.41 L933.88,41.09 L933.70,41.77 L933.50,42.45 L933.26,43.11 L932.99,43.75 L932.69,44.39 L932.36,45.01 L932.01,45.62 L931.62,46.22 L931.21,46.79 L930.77,47.35 L930.30,47.89 L929.80,48.42 L929.28,48.92 L928.74,49.40 L928.17,49.87 L927.58,50.31 L926.97,50.72 L926.34,51.12 L925.68,51.49 L925.01,51.84 L924.33,52.17 L923.62,52.47 L922.90,52.75 L922.17,53.01 L921.42,53.24 L920.66,53.45 L919.89,53.63 L919.10,53.79 L918.31,53.93 L918.31,53.93 L919.06,53.68 L919.79,53.42 L920.50,53.13 L921.20,52.83 L921.88,52.51 L922.54,52.17 L923.19,51.82 L923.82,51.45 L924.43,51.06 L925.02,50.66 L925.60,50.25 L926.16,49.82 L926.70,49.38 L927.22,48.93 L927.72,48.46 L928.21,47.98 L928.67,47.49 L929.12,46.99 L929.55,46.48 L929.96,45.95 L930.36,45.42 L930.73,44.87 L931.08,44.31 L931.42,43.74 L931.74,43.16 L932.03,42.57 L932.31,41.97 L932.56,41.36 L932.80,40.74 L933.01,40.11 L933.21,39.46 L933.38,38.81 L933.52,38.15 L933.65,37.48 L933.75,36.80 L933.83,36.11 L933.88,35.42 L933.91,34.72 L933.91,34.01 L933.89,33.29Z" fill="#acacac"/><path d="M894.03,21.20 L894.48,20.83 L894.97,20.47 L895.50,20.15 L896.06,19.84 L896.66,19.57 L897.28,19.33 L897.94,19.11 L898.62,18.93 L899.33,18.78 L900.06,18.66 L900.81,18.58 L901.58,18.53 L902.37,18.52 L903.17,18.54 L903.98,18.60 L904.80,18.70 L905.63,18.83 L906.46,19.00 L907.29,19.20 L908.11,19.44 L908.93,19.71 L909.74,20.02 L910.54,20.36 L911.33,20.73 L912.10,21.13 L912.85,21.55 L913.57,22.01 L914.28,22.48 L914.96,22.99 L915.61,23.51 L916.23,24.05 L916.82,24.60 L917.37,25.18 L917.89,25.76 L918.38,26.36 L918.83,26.96 L919.24,27.57 L919.61,28.19 L919.95,28.80 L920.24,29.42 L920.24,29.42 L919.86,28.83 L919.44,28.26 L918.99,27.69 L918.50,27.13 L917.99,26.59 L917.44,26.07 L916.87,25.55 L916.28,25.06 L915.66,24.58 L915.02,24.12 L914.36,23.67 L913.68,23.25 L912.99,22.84 L912.28,22.46 L911.56,22.10 L910.83,21.75 L910.09,21.43 L909.34,21.13 L908.58,20.86 L907.82,20.61 L907.06,20.38 L906.29,20.17 L905.53,19.99 L904.76,19.84 L904.00,19.71 L903.25,19.61 L902.49,19.53 L901.75,19.49 L901.02,19.47 L900.29,19.48 L899.58,19.51 L898.88,19.58 L898.20,19.68 L897.54,19.81 L896.89,19.96 L896.27,20.15 L895.67,20.37 L895.10,20.62 L894.55,20.90 L894.03,21.20Z" fill="#fff"/><path d="M899.13,24.35 L899.48,24.17 L899.86,24.01 L900.26,23.86 L900.67,23.73 L901.11,23.62 L901.56,23.53 L902.02,23.45 L902.50,23.40 L903.00,23.36 L903.50,23.34 L904.02,23.35 L904.55,23.37 L905.08,23.42 L905.62,23.49 L906.16,23.58 L906.71,23.69 L907.25,23.83 L907.80,23.98 L908.34,24.15 L908.88,24.35 L909.42,24.56 L909.94,24.80 L910.46,25.05 L910.97,25.32 L911.46,25.60 L911.94,25.90 L912.41,26.22 L912.86,26.55 L913.29,26.89 L913.71,27.24 L914.10,27.60 L914.48,27.97 L914.83,28.35 L915.16,28.73 L915.47,29.11 L915.76,29.50 L916.03,29.90 L916.27,30.29 L916.48,30.68 L916.68,31.07 L916.68,31.07 L916.41,30.71 L916.12,30.35 L915.81,29.99 L915.49,29.64 L915.14,29.30 L914.78,28.97 L914.41,28.65 L914.01,28.33 L913.61,28.02 L913.19,27.73 L912.77,27.44 L912.33,27.16 L911.88,26.89 L911.43,26.63 L910.96,26.38 L910.49,26.14 L910.02,25.91 L909.53,25.70 L909.05,25.49 L908.56,25.29 L908.06,25.11 L907.57,24.94 L907.07,24.78 L906.57,24.63 L906.08,24.50 L905.58,24.38 L905.08,24.27 L904.59,24.18 L904.10,24.11 L903.61,24.04 L903.13,24.00 L902.65,23.97 L902.17,23.95 L901.71,23.96 L901.25,23.98 L900.80,24.01 L900.37,24.07 L899.94,24.15 L899.53,24.24 L899.13,24.35Z" fill="#fff"/><path d="M912.50,45.71 L911.90,45.82 L911.28,45.91 L910.65,45.98 L910.01,46.04 L909.36,46.07 L908.71,46.08 L908.05,46.08 L907.38,46.05 L906.71,46.00 L906.03,45.93 L905.35,45.84 L904.67,45.73 L903.99,45.60 L903.31,45.44 L902.63,45.27 L901.95,45.07 L901.28,44.85 L900.61,44.61 L899.95,44.35 L899.30,44.07 L898.66,43.78 L898.02,43.46 L897.40,43.12 L896.79,42.77 L896.19,42.40 L895.60,42.01 L895.03,41.61 L894.48,41.19 L893.94,40.76 L893.42,40.32 L892.91,39.86 L892.43,39.39 L891.96,38.91 L891.51,38.43 L891.08,37.93 L890.68,37.43 L890.29,36.92 L889.92,36.40 L889.57,35.88 L889.25,35.36 L889.25,35.36 L889.65,35.84 L890.07,36.32 L890.51,36.78 L890.96,37.24 L891.42,37.68 L891.91,38.12 L892.40,38.54 L892.91,38.96 L893.43,39.36 L893.96,39.76 L894.50,40.14 L895.05,40.51 L895.61,40.87 L896.18,41.22 L896.76,41.56 L897.34,41.88 L897.93,42.20 L898.53,42.50 L899.14,42.79 L899.75,43.07 L900.36,43.34 L900.99,43.59 L901.61,43.83 L902.24,44.06 L902.88,44.28 L903.51,44.48 L904.15,44.67 L904.80,44.85 L905.44,45.01 L906.09,45.16 L906.73,45.29 L907.38,45.40 L908.03,45.50 L908.67,45.59 L909.32,45.65 L909.96,45.70 L910.60,45.73 L911.24,45.74 L911.87,45.74 L912.50,45.71Z" fill="#fff"/><text x="895.8" y="34" font-family="Liberation Serif" font-size="11" fill="#444" textLength="69.5" lengthAdjust="spacing">W<tspan font-size="7.6">EATHER</tspan>BELL</text><text x="935.9" y="38.6" font-family="Liberation Serif" font-size="3" fill="#505050" textLength="29.6" lengthAdjust="spacingAndGlyphs">ANALYTICS LLC</text>
</svg>
</body></html>
